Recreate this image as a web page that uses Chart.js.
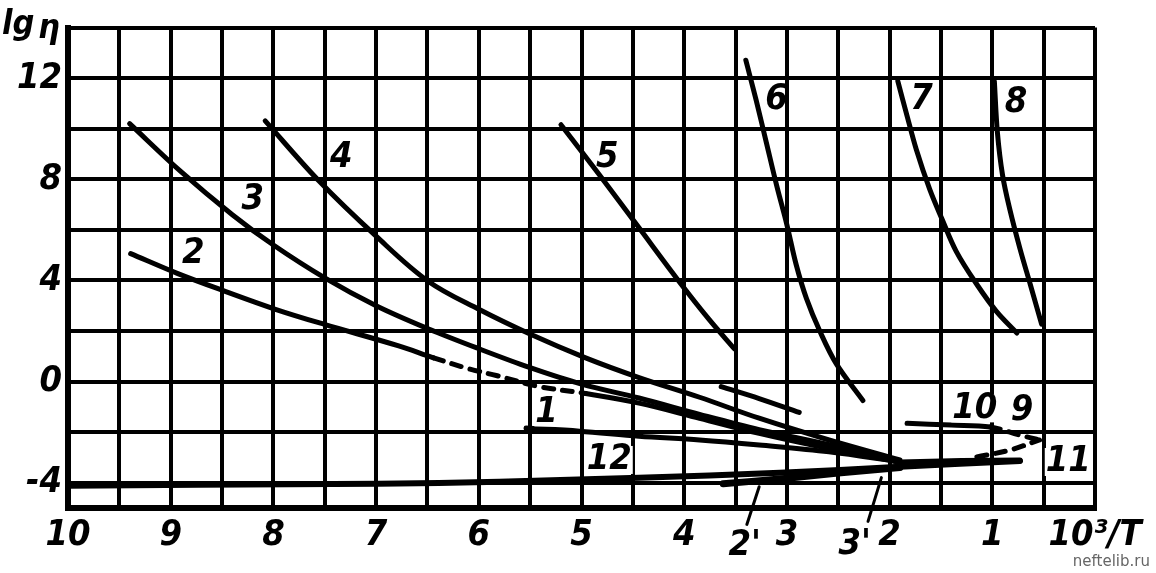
<!DOCTYPE html>
<html>
<head>
<meta charset="utf-8">
<script src="https://cdn.jsdelivr.net/npm/chart.js@4"></script>
<style>
  html, body { margin: 0; padding: 0; background: #fff; }
  #wrap { width: 1156px; height: 573px; position: relative; }
</style>
</head>
<body>
<div id="wrap"><canvas id="graphCanvas" width="1156" height="573"></canvas></div>
<script>
// lg η against 10^3/T, curves
const c2x = [9.39, 8.93, 8.47, 7.98, 7.51, 6.78, 6.44, 6.10, 5.83, 5.41, 4.96, 4.44, 3.85, 3.27, 2.59, 1.9];
const c2y = [5.06, 4.27, 3.57, 2.86, 2.27, 1.41, 0.94, 0.51, 0.24, -0.20, -0.47, -0.85, -1.45, -2.05, -2.65, -3.18];

const c3x = [9.4, 8.9, 8.4, 8.0, 7.5, 7.0, 6.5, 6.0, 5.5, 5.0, 4.44, 3.85, 3.27, 2.59, 1.9];
const c3y = [10.2, 8.3, 6.6, 5.4, 4.1, 3.0, 2.1, 1.3, 0.55, -0.1, -0.65, -1.3, -1.9, -2.5, -3.2];

const c4x = [8.08, 7.56, 7.0, 6.49, 6.0, 5.48, 4.96, 4.44, 3.85, 3.27, 2.59, 1.9];
const c4y = [10.31, 7.95, 5.75, 3.96, 2.86, 1.84, 0.94, 0.16, -0.62, -1.45, -2.31, -3.1];

const c5x = [5.2, 4.83, 4.44, 4.05, 3.76, 3.51];
const c5y = [10.16, 8.2, 6.08, 3.96, 2.47, 1.29];

const c6x = [3.40, 3.30, 3.20, 3.10, 3.0, 2.91, 2.81, 2.68, 2.52, 2.26];
const c6y = [12.71, 11.14, 9.45, 7.76, 6.2, 4.63, 3.29, 2.0, 0.71, -0.75];

const c7x = [1.92, 1.83, 1.74, 1.61, 1.49, 1.35, 1.15, 0.96, 0.76];
const c7y = [11.88, 10.51, 9.18, 7.61, 6.43, 5.14, 3.84, 2.78, 1.92];

const c8x = [0.98, 0.95, 0.9, 0.83, 0.73, 0.63, 0.52];
const c8y = [11.88, 9.84, 8.16, 6.82, 5.25, 3.84, 2.27];

const c1x = [5.54, 5.02, 4.44, 3.85, 3.27, 2.59, 1.9];
const c1y = [-1.84, -1.96, -2.16, -2.31, -2.51, -2.78, -3.18];

const cShortX = [3.64, 3.27, 2.88];
const cShortY = [-0.2, -0.67, -1.22];

const c12x = [10, 8.73, 6.98, 5.8, 4.44, 3.07, 1.9, 0.73];
const c12y = [-4.12, -4.08, -4.04, -3.96, -3.8, -3.61, -3.37, -3.14];

const c2px = [3.62, 3.07, 2.5, 1.9];
const c2py = [-4.04, -3.85, -3.62, -3.4];

const c11x = [1.9, 1.3, 0.73];
const c11y = [-3.18, -3.12, -3.1];

const c10x = [1.83, 1.4, 1.02, 0.73, 0.54];
const c10y = [-1.65, -1.72, -1.8, -2.12, -2.31];

const c9x = [1.15, 0.83, 0.54];
const c9y = [-2.98, -2.71, -2.31];

// leader lines for 2' and 3' below the axis
const lead2x = [3.39, 3.27];
const lead2y = [-5.65, -4.16];
const lead3x = [2.21, 2.08];
const lead3y = [-5.53, -3.8];

const curveLabels = ["2", "3", "4", "5", "6", "7", "8", "1", "12", "10", "9", "11", "2'", "3'"];
const labelX = [8.78, 8.2, 7.34, 4.75, 3.1, 1.69, 0.77, 5.34, 4.73, 1.17, 0.71, 0.26, 3.41, 2.34];
const labelY = [5.06, 7.18, 8.86, 8.86, 11.14, 11.14, 11.02, -1.22, -3.1, -1.06, -1.14, -3.18, -6.5, -6.43];

const xGrid = [0, 0.5, 1, 1.5, 2, 2.5, 3, 3.5, 4, 4.5, 5, 5.5, 6, 6.5, 7, 7.5, 8, 8.5, 9, 9.5, 10];
const xTickLabels = { 0: "10³/T", 1: "1", 2: "2", 3: "3", 4: "4", 5: "5", 6: "6", 7: "7", 8: "8", 9: "9", 10: "10" };
const yGrid = [-4, -2, 0, 2, 4, 6, 8, 10, 12, 14];
const yTickLabels = { "-4": "-4", 0: "0", 4: "4", 8: "8", 12: "12" };

const FAMILY = '"Liberation Sans Narrow", "DejaVu Sans Condensed", "Liberation Sans", sans-serif';
// labels that sit on a blanked patch of the grid
const conFondo = new Set(["1", "12", "11", "10", "9"]);

function pts(xs, ys) {
  return xs.map((x, i) => ({ x, y: ys[i] }));
}

function curva(xs, ys, extra) {
  return Object.assign({
    data: pts(xs, ys),
    showLine: true,
    borderColor: "#000",
    borderWidth: 5,
    pointRadius: 0,
    tension: 0.35,
    borderCapStyle: "round",
    borderJoinStyle: "round",
  }, extra || {});
}

// dashed between two x values (x falls along the data)
function dashBetween(hi, lo) {
  return {
    borderDash: (ctx) => (ctx.p0.parsed.x <= hi + 1e-6 && ctx.p1.parsed.x >= lo - 1e-6 ? [10, 9] : undefined),
  };
}

const datasets = [
  curva(c2x, c2y, { segment: dashBetween(6.44, 4.96) }),
  curva(c3x, c3y),
  curva(c4x, c4y),
  curva(c5x, c5y),
  curva(c6x, c6y),
  curva(c7x, c7y),
  curva(c8x, c8y),
  curva(c1x, c1y),
  curva(cShortX, cShortY),
  curva(c12x, c12y, { borderWidth: 6 }),
  curva(c2px, c2py, { borderWidth: 7 }),
  curva(c11x, c11y),
  curva(c10x, c10y, { segment: dashBetween(1.02, 0) }),
  curva(c9x, c9y, { borderDash: [10, 9] }),
  curva(lead2x, lead2y, { borderWidth: 3, tension: 0, clip: false }),
  curva(lead3x, lead3y, { borderWidth: 3, tension: 0, clip: false }),
];

const labelPlugin = {
  id: "etiquetas",
  afterDraw(chart) {
    const ctx = chart.ctx;
    const xs = chart.scales.x;
    const ys = chart.scales.y;
    ctx.save();
    ctx.fillStyle = "#000";
    ctx.font = "italic bold 36px " + FAMILY;
    ctx.textAlign = "center";
    ctx.textBaseline = "middle";
    curveLabels.forEach((t, i) => {
      const px = xs.getPixelForValue(labelX[i]);
      const py = ys.getPixelForValue(labelY[i]);
      if (conFondo.has(t)) {
        const w = ctx.measureText(t).width + 2;
        ctx.fillStyle = "#fff";
        ctx.fillRect(px - w / 2, py - 14, w, 28);
        ctx.fillStyle = "#000";
      }
      ctx.fillText(t, px, py);
    });
    // axis name top left
    ctx.textAlign = "left";
    ctx.textBaseline = "alphabetic";
    ctx.font = "italic bold 34px " + FAMILY;
    ctx.fillText("lg", 2, 34);
    ctx.fillText("η", 38, 38);
    // source mark
    ctx.font = "15px 'DejaVu Sans', sans-serif";
    ctx.fillStyle = "#666";
    ctx.textAlign = "right";
    ctx.fillText("neftelib.ru", 1150, 566);
    ctx.restore();
  },
};

const chartData = {
  type: "scatter",
  data: { datasets },
  options: {
    responsive: false,
    animation: false,
    maintainAspectRatio: false,
    layout: { padding: { top: 27, right: 61, left: 0, bottom: 0 } },
    plugins: { legend: { display: false }, tooltip: { enabled: false } },
    scales: {
      x: {
        type: "linear",
        min: 0,
        max: 10,
        reverse: true,
        afterBuildTicks: (s) => { s.ticks = xGrid.map((v) => ({ value: v })); },
        afterFit: (s) => { s.height = 65; },
        grid: { color: "#000", lineWidth: 4, drawTicks: false },
        border: { color: "#000", width: 6 },
        ticks: {
          autoSkip: false,
          maxRotation: 0,
          padding: 6,
          color: "#000",
          font: { family: FAMILY, size: 36, style: "italic", weight: "bold" },
          callback: (v) => (xTickLabels[v] !== undefined ? xTickLabels[v] : ""),
        },
      },
      y: {
        type: "linear",
        min: -5,
        max: 14,
        afterBuildTicks: (s) => { s.ticks = yGrid.map((v) => ({ value: v })); },
        afterFit: (s) => { s.width = 68; },
        grid: { color: "#000", lineWidth: 4, drawTicks: false },
        border: { color: "#000", width: 6 },
        ticks: {
          autoSkip: false,
          padding: 6,
          color: "#000",
          font: { family: FAMILY, size: 36, style: "italic", weight: "bold" },
          callback: (v) => (yTickLabels[v] !== undefined ? yTickLabels[v] : ""),
        },
      },
    },
  },
  plugins: [labelPlugin],
};

const ctx = document.getElementById("graphCanvas").getContext("2d");
new Chart(ctx, chartData);
</script>
</body>
</html>
